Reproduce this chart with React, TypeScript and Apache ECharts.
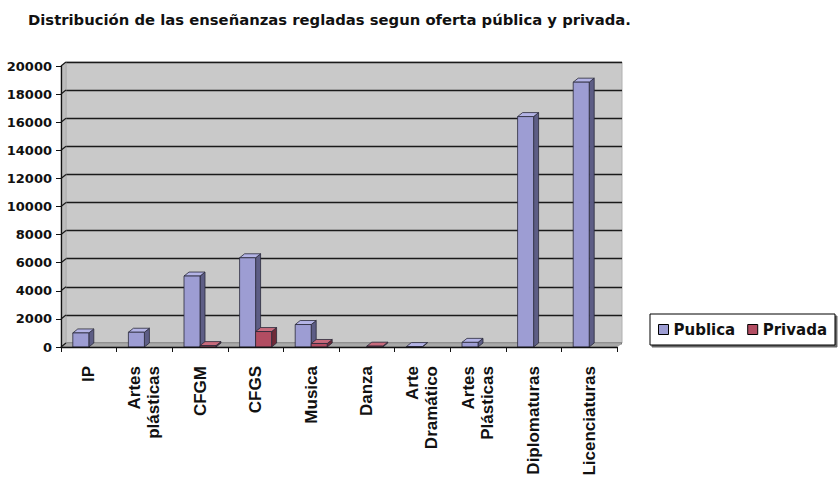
import React, { useEffect, useRef } from "react";
import * as echarts from "echarts";

const TITLE = "Distribución de las enseñanzas regladas segun oferta pública y privada.";
const categories = [
  "IP",
  "Artes\nplásticas",
  "CFGM",
  "CFGS",
  "Musica",
  "Danza",
  "Arte\nDramático",
  "Artes\nPlásticas",
  "Diplomaturas",
  "Licenciaturas",
];
const publica = [1000, 1050, 5050, 6350, 1600, 0, 30, 330, 16400, 18850];
const privada = [0, 0, 100, 1100, 250, 60, 0, 0, 0, 0];
const seriesNames = ["Publica", "Privada"];
const yTicks = [0, 2000, 4000, 6000, 8000, 10000, 12000, 14000, 16000, 18000, 20000];

const FONT = "DejaVu Sans";
const LABEL_FONT = "Liberation Sans";
const L = 61, T = 66, W = 561, H = 281, DX = 5, DY = 4;
const BAR_W = 16;

const palettes = [
  { front: "#9d9dd3", top: "#b4b4e6", side: "#5d5d85" },
  { front: "#b24d62", top: "#c86a7c", side: "#6e2a38" },
];

function barRenderer(seriesIdx: number) {
  return (params: any, api: any) => {
    const idx = api.value(0);
    const v = api.value(1);
    if (!(v > 0)) return null;
    const base = api.coord([idx, 0]);
    const top = api.coord([idx, v]);
    const x0 = base[0] - BAR_W + seriesIdx * BAR_W;
    const x1 = x0 + BAR_W;
    const ty = top[1];
    const by = base[1];
    const pal = palettes[seriesIdx];
    const stroke = { stroke: "#2a2a3a", lineWidth: 0.8 };
    return {
      type: "group",
      children: [
        {
          type: "polygon",
          shape: { points: [[x1, ty], [x1 + DX, ty - DY], [x1 + DX, by - DY], [x1, by]] },
          style: { fill: pal.side, ...stroke },
        },
        {
          type: "polygon",
          shape: { points: [[x0, ty], [x0 + DX, ty - DY], [x1 + DX, ty - DY], [x1, ty]] },
          style: { fill: pal.top, ...stroke },
        },
        {
          type: "rect",
          shape: { x: x0, y: ty, width: BAR_W, height: by - ty },
          style: { fill: pal.front, ...stroke },
        },
      ],
    };
  };
}

function wallRenderer(params: any, api: any) {
  const cs = params.coordSys;
  const v = api.value(0);
  const y = api.coord([0, v])[1];
  const children: any[] = [];
  if (params.dataIndex === 0) {
    children.push({
      type: "polygon",
      shape: {
        points: [
          [cs.x, cs.y],
          [cs.x - DX, cs.y + DY],
          [cs.x - DX, cs.y + cs.height + DY],
          [cs.x, cs.y + cs.height],
        ],
      },
      style: { fill: "#bdbdbd", stroke: "#a8a8a8", lineWidth: 0.6 },
    });
    children.push({
      type: "polygon",
      shape: {
        points: [
          [cs.x, cs.y + cs.height],
          [cs.x - DX, cs.y + cs.height + DY],
          [cs.x + cs.width - DX, cs.y + cs.height + DY],
          [cs.x + cs.width, cs.y + cs.height],
        ],
      },
      style: { fill: "#a9a9a9", stroke: "#8a8a8a", lineWidth: 0.6 },
    });
  }
  children.push({
    type: "line",
    shape: { x1: cs.x, y1: y, x2: cs.x - DX, y2: y + DY },
    style: { stroke: "#1a1a1a", lineWidth: 1.3 },
  });
  return { type: "group", children };
}

export default function App() {
  const ref = useRef<HTMLDivElement>(null);
  useEffect(() => {
    if (!ref.current) return;
    const chart = echarts.init(ref.current, null, { renderer: "svg" });
    chart.setOption({
      animation: false,
      backgroundColor: "#ffffff",
      textStyle: { fontFamily: FONT },
      title: {
        text: TITLE,
        left: 28,
        top: 12,
        padding: 0,
        textStyle: { fontFamily: FONT, fontWeight: "bold", fontSize: 14.8, color: "#111" },
      },
      legend: {
        data: seriesNames,
        left: 650,
        top: 314,
        orient: "horizontal",
        icon: "rect",
        itemWidth: 10,
        itemHeight: 10,
        itemGap: 12,
        padding: [8, 8, 8, 8],
        borderColor: "#000",
        borderWidth: 1,
        backgroundColor: "#fff",
        shadowColor: "rgba(0,0,0,0.6)",
        shadowOffsetX: 2,
        shadowOffsetY: 2,
        shadowBlur: 0,
        itemStyle: { borderColor: "#000", borderWidth: 1 },
        textStyle: { fontFamily: FONT, fontWeight: "bold", fontSize: 15, color: "#111" },
      },
      grid: [
        { left: L, top: T, width: W - DX, height: H, containLabel: false, outerBoundsMode: "none" },
        {
          left: L + DX,
          top: T - DY,
          width: W - DX,
          height: H,
          show: true,
          backgroundColor: "#c9c9c9",
          borderColor: "#b0b0b0",
          borderWidth: 1,
          outerBoundsMode: "none",
        },
      ],
      xAxis: [
        {
          gridIndex: 0,
          type: "category",
          data: categories,
          boundaryGap: true,
          axisLine: { show: true, lineStyle: { color: "#111", width: 1.3 } },
          axisTick: { show: true, alignWithLabel: false, length: 5, inside: false, lineStyle: { color: "#111" } },
          axisLabel: {
            interval: 0,
            rotate: 90,
            margin: 19,
            fontFamily: LABEL_FONT,
            fontWeight: "bold",
            fontSize: 17,
            color: "#111",
            lineHeight: 19,
          },
          splitLine: { show: false },
          z: 5,
        },
        {
          gridIndex: 1,
          type: "category",
          data: categories,
          show: false,
        },
      ],
      yAxis: [
        {
          gridIndex: 0,
          type: "value",
          min: 0,
          max: 20000,
          interval: 2000,
          axisLine: { show: true, lineStyle: { color: "#111", width: 1.3 } },
          axisTick: { show: true, length: 5, lineStyle: { color: "#111" } },
          axisLabel: {
            margin: 9,
            fontFamily: FONT,
            fontWeight: "bold",
            fontSize: 13,
            color: "#111",
            formatter: (v: number) => String(v),
          },
          splitLine: { show: false },
          z: 5,
        },
        {
          gridIndex: 1,
          type: "value",
          min: 0,
          max: 20000,
          interval: 2000,
          axisLine: { show: false },
          axisTick: { show: false },
          axisLabel: { show: false },
          splitLine: { show: true, lineStyle: { color: "#1a1a1a", width: 1.3 } },
        },
      ],
      series: [
        {
          name: "walls",
          type: "custom",
          xAxisIndex: 1,
          yAxisIndex: 1,
          data: yTicks.map((v) => [v]),
          encode: { y: 0 },
          renderItem: wallRenderer,
          silent: true,
          z: 1,
        },
        {
          name: seriesNames[0],
          type: "custom",
          xAxisIndex: 0,
          yAxisIndex: 0,
          itemStyle: { color: palettes[0].front },
          data: publica.map((v, i) => [i, v]),
          encode: { x: 0, y: 1 },
          renderItem: barRenderer(0),
          z: 3,
        },
        {
          name: seriesNames[1],
          type: "custom",
          xAxisIndex: 0,
          yAxisIndex: 0,
          itemStyle: { color: palettes[1].front },
          data: privada.map((v, i) => [i, v]),
          encode: { x: 0, y: 1 },
          renderItem: barRenderer(1),
          z: 3,
        },
      ],
    });
    return () => chart.dispose();
  }, []);
  return (
    <div
      ref={ref}
      style={{ position: "absolute", left: 0, top: 0, width: 840, height: 480 }}
    />
  );
}
